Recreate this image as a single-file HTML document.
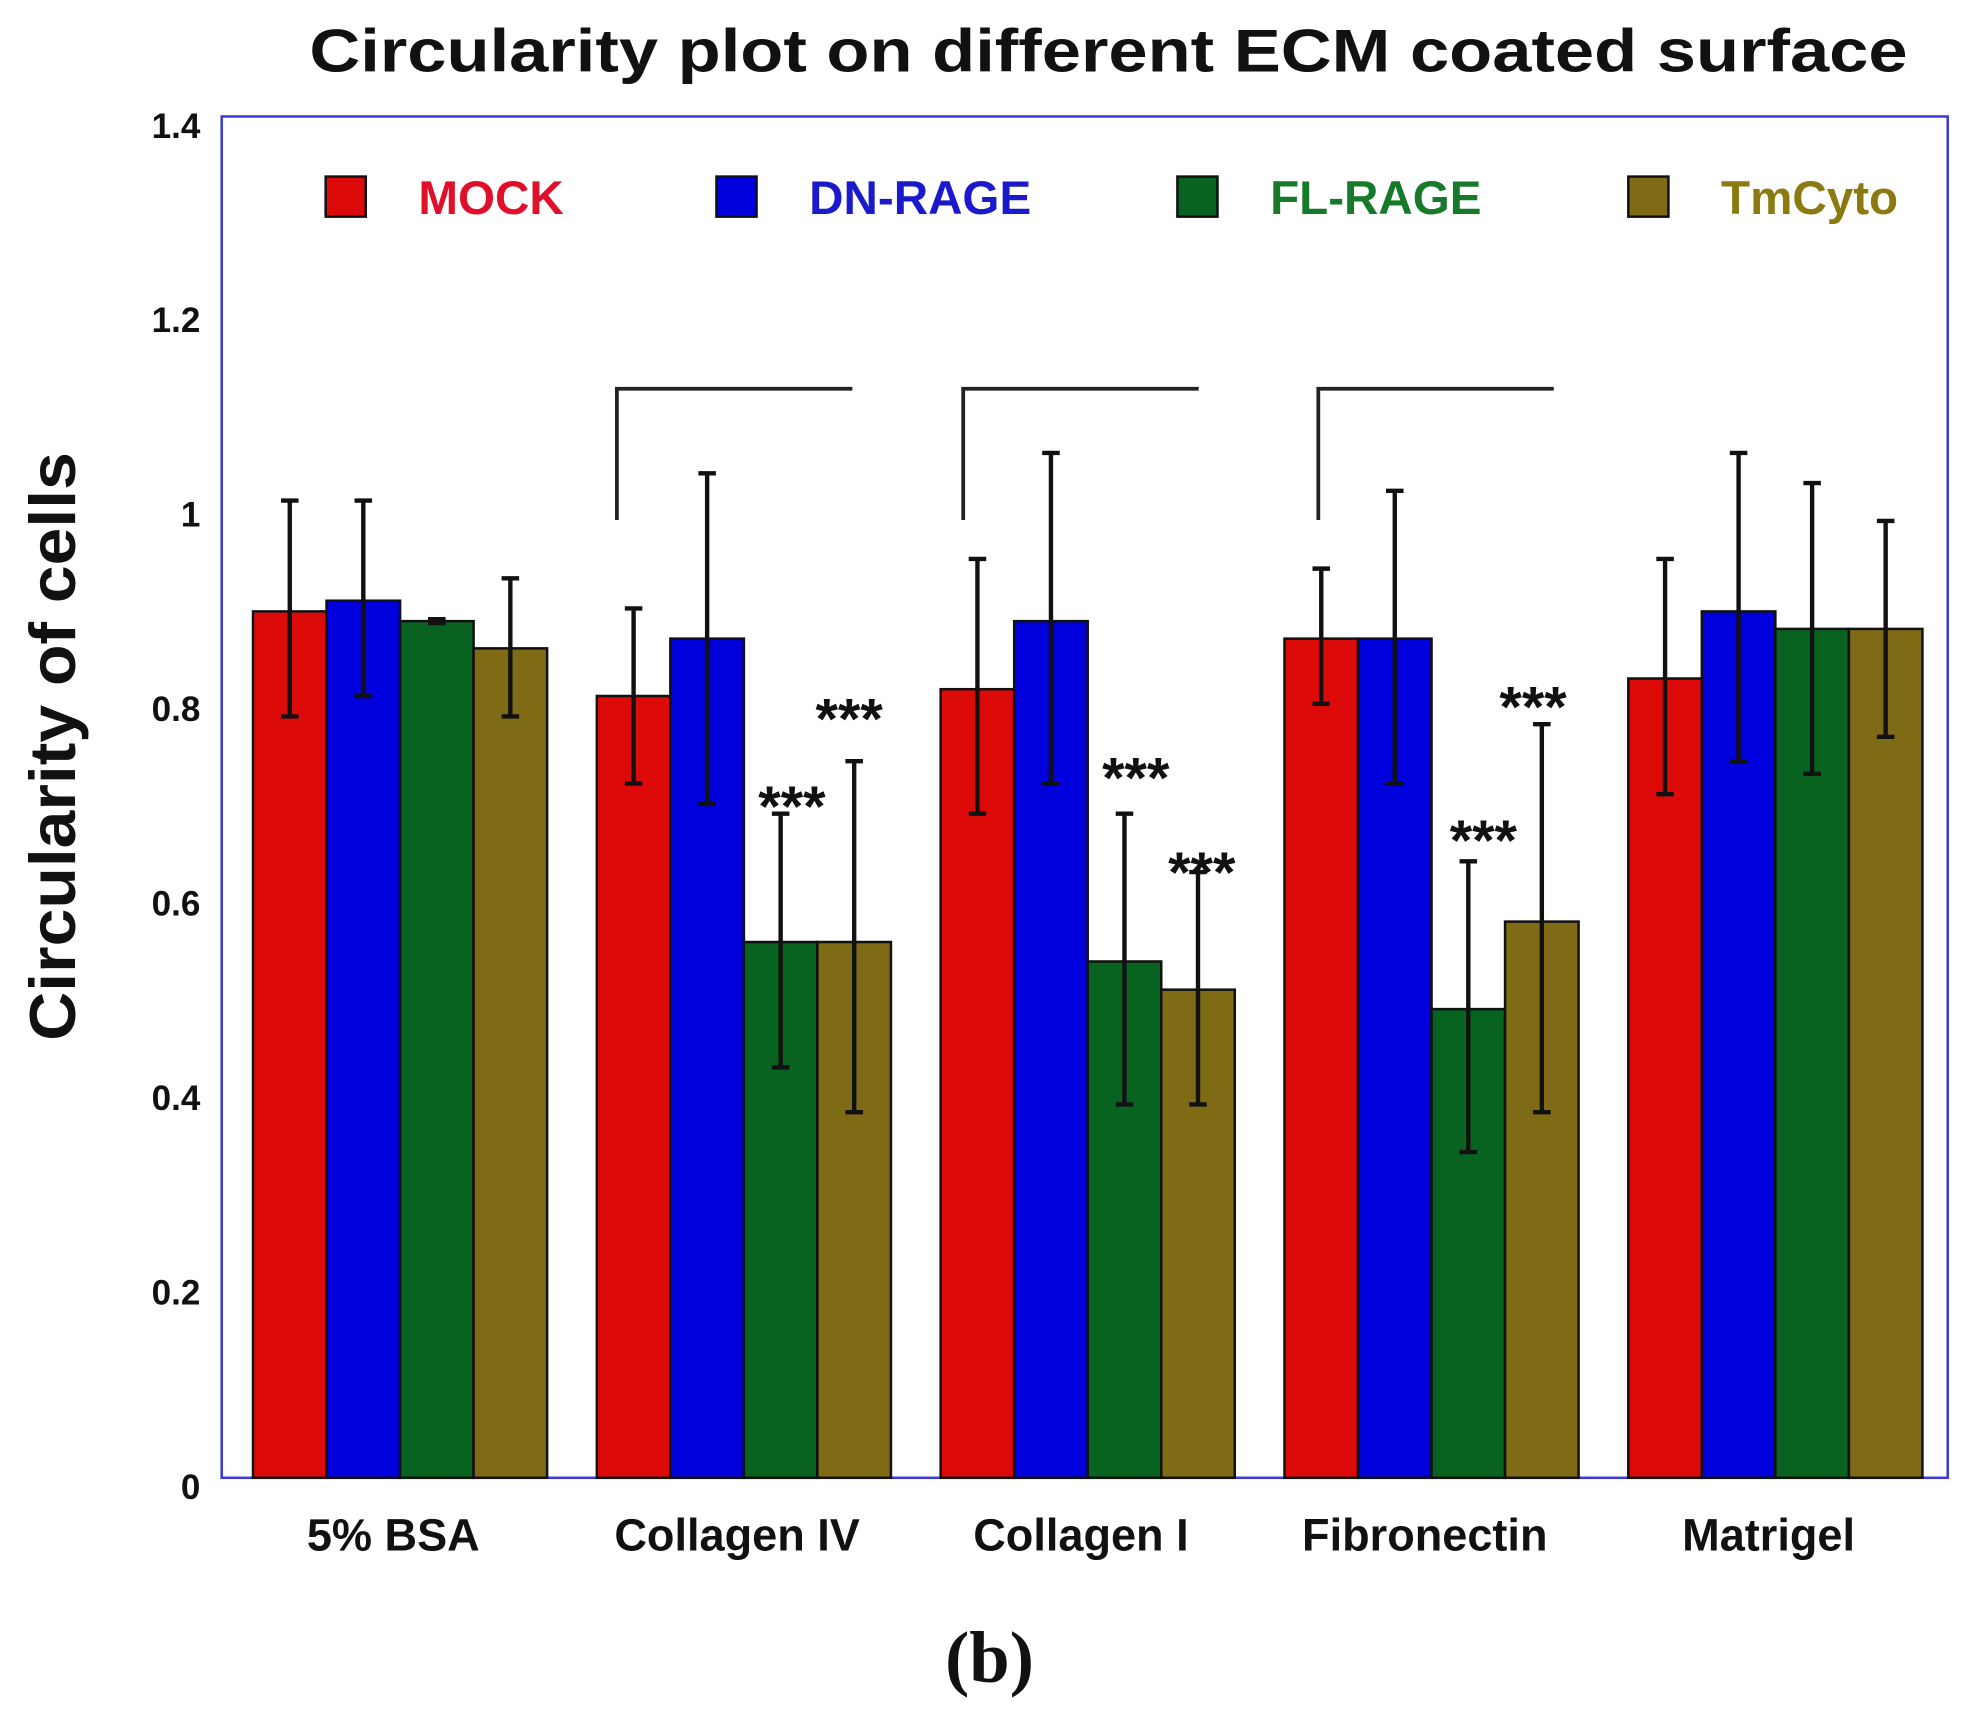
<!DOCTYPE html>
<html><head><meta charset="utf-8"><style>
html,body{margin:0;padding:0;background:#fff}
svg{display:block}
text{font-family:"Liberation Sans",sans-serif;font-weight:bold}
</style></head><body>
<svg id="chart" width="1964" height="1717" viewBox="0 0 1568 1371" preserveAspectRatio="none" xmlns="http://www.w3.org/2000/svg">
<text x="885" y="57" font-size="48" text-anchor="middle" textLength="1276" lengthAdjust="spacingAndGlyphs" fill="#111">Circularity plot on different ECM coated surface</text>
<rect x="177" y="93" width="1378" height="1087" fill="none" stroke="#3a3ae0" stroke-width="2"/>
<g id="bars"></g><g id="errs"></g><g id="ticks"></g><g id="xlabels"></g><g id="sig"></g>
<text transform="translate(60,596) rotate(-90)" font-size="52" text-anchor="middle" textLength="470" lengthAdjust="spacingAndGlyphs" fill="#111">Circularity of cells</text>
<g id="legend"></g>
<text x="790" y="1343" font-size="58" text-anchor="middle" style="font-family:'Liberation Serif',serif" fill="#111">(b)</text>
</svg>
<script>
const categories=["5% BSA","Collagen IV","Collagen I","Fibronectin","Matrigel"];
const seriesNames=["MOCK","DN-RAGE","FL-RAGE","TmCyto"];
const mockVals=[0.891,0.804,0.811,0.863,0.822];
const dnVals=[0.902,0.863,0.881,0.863,0.891];
const flVals=[0.881,0.551,0.531,0.482,0.873];
const tmVals=[0.853,0.551,0.502,0.572,0.873];
const mockErrHi=[1.005,0.894,0.945,0.935,0.945];
const mockErrLo=[0.783,0.714,0.683,0.796,0.703];
const dnErrHi=[1.005,1.033,1.054,1.015,1.054];
const dnErrLo=[0.804,0.693,0.714,0.714,0.737];
const flErrHi=[0.883,0.683,0.683,0.634,1.023];
const flErrLo=[0.879,0.422,0.384,0.335,0.724];
const tmErrHi=[0.925,0.737,0.623,0.775,0.984];
const tmErrLo=[0.783,0.376,0.384,0.376,0.762];
const yTicks=[0,0.2,0.4,0.6,0.8,1,1.2,1.4];
const yTickLabels=["0","0.2","0.4","0.6","0.8","1","1.2","1.4"];
const sigCategories=[1,2,3];
const NS="http://www.w3.org/2000/svg";
const fills=["#dd0a0a","#0000dd","#07631f","#7f6a16"];
const legendColors=["#e0102a","#1a1acc","#167a2a","#8a7a10"];
const vals=[mockVals,dnVals,flVals,tmVals];
const hi=[mockErrHi,dnErrHi,flErrHi,tmErrHi];
const lo=[mockErrLo,dnErrLo,flErrLo,tmErrLo];
const y=v=>1180-(v/1.4)*1087;
const bw=58.7, gstep=274.5, g0=202;
const x=(c,s)=>g0+c*gstep+s*bw;
// styling offsets for annotation placement (pixels)
const bracketDx={1:16,2:18,3:27};
const starDx={1:[9,-4],2:[9,3],3:[12,-7]};
const starDy={1:[-12,-40],2:[-35,-6],3:[-23,-20]};
function mk(tag,attrs,parent){const e=document.createElementNS(NS,tag);for(const k in attrs)e.setAttribute(k,attrs[k]);document.getElementById(parent).appendChild(e);return e;}
for(let c=0;c<categories.length;c++){
 for(let s=0;s<4;s++){
  const v=vals[s][c];
  const r=mk('rect',{x:x(c,s),y:y(v),width:bw,height:y(0)-y(v),fill:fills[s],stroke:'#111','stroke-width':2},'bars');
  
  
  const cx=x(c,s)+bw/2;
  const p=mk('path',{d:`M${cx},${y(hi[s][c])}V${y(lo[s][c])}M${cx-7},${y(hi[s][c])}h14M${cx-7},${y(lo[s][c])}h14`,stroke:'#111','stroke-width':3.5,fill:'none'},'errs');
  
  
 }
 const t=mk('text',{x:g0+c*gstep+112,y:1238,'font-size':36,'text-anchor':'middle',fill:'#111'},'xlabels');
 t.textContent=categories[c];
 
 
}
yTicks.forEach((v,i)=>{
 const t=mk('text',{x:160,y:y(v)+17,'font-size':28,'text-anchor':'end',fill:'#111'},'ticks');
 t.textContent=yTickLabels[i];
 
 
});
sigCategories.forEach(c=>{
 const bx=x(c,0)+bracketDx[c], by=y(1.12);
 const b=mk('path',{d:`M${bx},${y(0.985)}V${by}H${bx+188}`,stroke:'#222','stroke-width':3,fill:'none'},'sig');
 
 
 [2,3].forEach((s,k)=>{
  const st=mk('text',{x:x(c,s)+bw/2+starDx[c][k],y:y(hi[s][c])+starDy[c][k]+22,'font-size':46,'text-anchor':'middle',fill:'#111'},'sig');
  st.textContent='***';
  
  
 });
});
const lx=[260,572,940,1300];
seriesNames.forEach((n,i)=>{
 const r=mk('rect',{x:lx[i],y:141,width:32,height:32,fill:fills[i],stroke:'#111','stroke-width':2},'legend');
 
 
 const t=mk('text',{x:lx[i]+74,y:171,'font-size':38,fill:legendColors[i]},'legend');
 t.textContent=n;
 
 
});
</script>
</body></html>
